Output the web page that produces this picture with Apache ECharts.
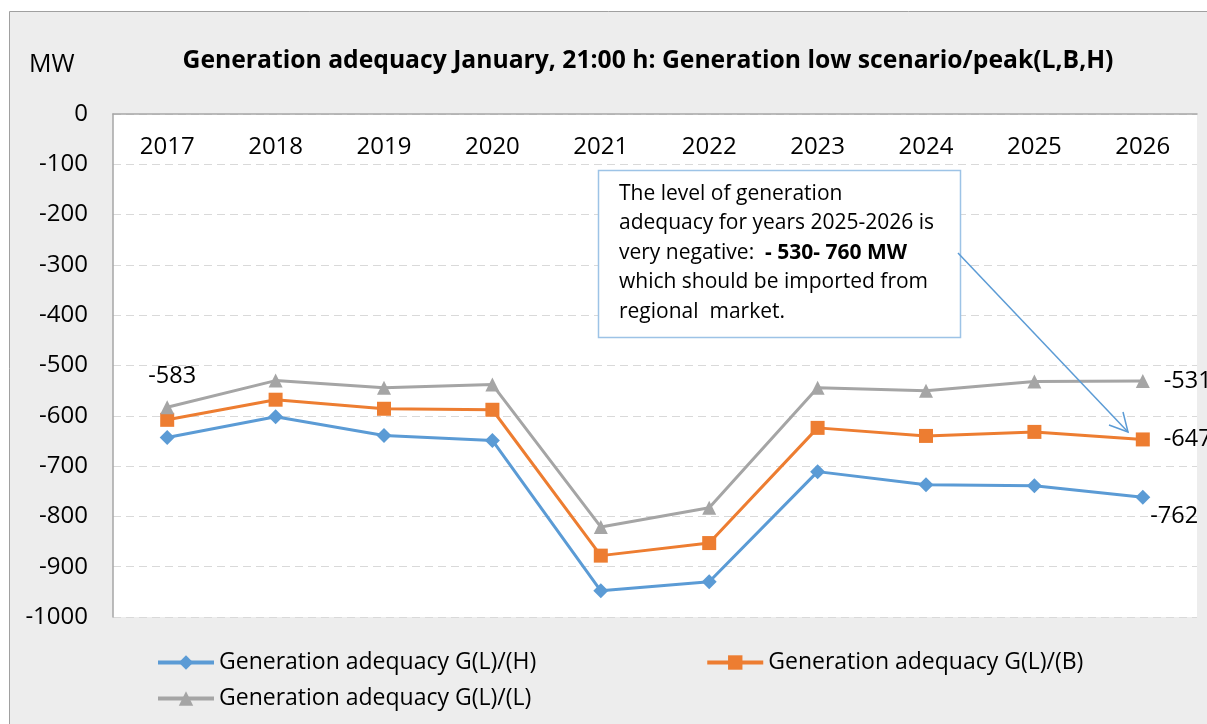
<!DOCTYPE html>
<html>
<head>
<meta charset="utf-8">
<script src="https://cdn.jsdelivr.net/npm/echarts@6/dist/echarts.min.js"></script>
<style>
  html, body { margin: 0; padding: 0; background: #fff; }
  #chart { width: 1207px; height: 724px; }
</style>
</head>
<body>
<div id="chart"></div>
<script>
// data
var years = ['2017', '2018', '2019', '2020', '2021', '2022', '2023', '2024', '2025', '2026'];
var adequacyH = [-643, -602, -639, -649, -948, -930, -711, -737, -739, -762];
var adequacyB = [-608, -568, -586, -588, -878, -853, -624, -640, -632, -647];
var adequacyL = [-583, -530, -544, -538, -821, -783, -544, -550, -532, -531];
var seriesNames = ['Generation adequacy G(L)/(H)', 'Generation adequacy G(L)/(B)', 'Generation adequacy G(L)/(L)'];

var font = 'Open Sans';
var chart = echarts.init(document.getElementById('chart'));

// labels only shown on some points, like the original
function labelled(values, show, pos) {
  return values.map(function (v, i) {
    if (show[i]) {
      return { value: v, label: { show: true, position: pos[i] } };
    }
    return v;
  });
}

var legendText = { fontFamily: font, fontSize: 23, color: '#000' };

var option = {
  animation: false,
  textStyle: { fontFamily: font },
  graphic: [
    {
      type: 'rect', z: -10, silent: true,
      shape: { x: 9.5, y: 11.5, width: 1220, height: 730 },
      style: { fill: '#ededed', stroke: '#a0a0a0', lineWidth: 1 }
    },
    {
      type: 'text', left: 29, top: 52,
      style: { text: 'MW', font: '25px "Open Sans"', fill: '#000' }
    },
    // annotation box
    {
      type: 'rect', z: 50,
      shape: { x: 598.5, y: 170.5, width: 362, height: 167 },
      style: { fill: '#fff', stroke: '#9dc3e6', lineWidth: 1.5 }
    },
    {
      type: 'text', z: 51, left: 619, top: 179,
      style: {
        text: 'The level of generation\nadequacy for years 2025-2026 is\nvery negative:  {b|- 530- 760 MW}\nwhich should be imported from\nregional  market.',
        font: '21px "Open Sans"', fill: '#000', lineHeight: 29.5,
        rich: { b: { fontWeight: 'bold', fontSize: 21, fontFamily: font, lineHeight: 29.5 } }
      }
    },
    // arrow from the box to the 2026 point
    {
      type: 'polyline', z: 52,
      shape: { points: [[958, 253], [1128, 432]] },
      style: { stroke: '#5b9bd5', lineWidth: 1.5, fill: null }
    },
    {
      type: 'polyline', z: 52,
      shape: { points: [[1109, 425], [1128, 432], [1123, 412]] },
      style: { stroke: '#5b9bd5', lineWidth: 1.5, fill: null }
    }
  ],
  title: {
    text: 'Generation adequacy January, 21:00 h: Generation low scenario/peak(L,B,H)',
    left: 643, top: 43, textAlign: 'center',
    textStyle: { fontFamily: font, fontSize: 24.7, fontWeight: 'bold', color: '#000' }
  },
  legend: [
    {
      left: 151, top: 646, itemGap: 169, itemWidth: 56, itemHeight: 18,
      textStyle: legendText, lineStyle: { width: 4 },
      data: [seriesNames[0], seriesNames[1]]
    },
    {
      left: 151, top: 682, itemWidth: 56, itemHeight: 18,
      textStyle: legendText, lineStyle: { width: 4 },
      data: [seriesNames[2]]
    }
  ],
  grid: {
    left: 113, right: 10, top: 114, bottom: 107,
    show: true, backgroundColor: '#fff', borderWidth: 0
  },
  xAxis: {
    type: 'category', data: years, position: 'top',
    axisLine: { show: true, lineStyle: { color: '#a6a6a6', width: 1.5 } },
    axisTick: { show: false },
    axisLabel: { inside: true, margin: 21, fontSize: 24, color: '#000', fontFamily: font },
    splitLine: { show: false }
  },
  yAxis: {
    type: 'value', min: -1000, max: 0, interval: 100,
    axisLine: { show: true, onZero: false, lineStyle: { color: '#a6a6a6', width: 1.5 } },
    axisTick: { show: false },
    axisLabel: {
      margin: 25, fontSize: 24, color: '#000', fontFamily: font,
      formatter: function (v) { return String(v); }
    },
    splitLine: { show: true, lineStyle: { color: '#d9d9d9', type: [8, 5], width: 1 } }
  },
  series: [
    {
      name: seriesNames[0], type: 'line',
      data: labelled(adequacyH, [0, 0, 0, 0, 0, 0, 0, 0, 0, 1], { 9: [15, 15] }),
      symbol: 'diamond', symbolSize: 15,
      itemStyle: { color: '#5b9bd5' }, lineStyle: { width: 3 },
      label: { fontSize: 23.5, color: '#000', fontFamily: font }
    },
    {
      name: seriesNames[1], type: 'line',
      data: labelled(adequacyB, [0, 0, 0, 0, 0, 0, 0, 0, 0, 1], { 9: 'right' }),
      symbol: 'rect', symbolSize: 14,
      itemStyle: { color: '#ed7d31' }, lineStyle: { width: 3 },
      label: { fontSize: 23.5, color: '#000', fontFamily: font, distance: 14 }
    },
    {
      name: seriesNames[2], type: 'line',
      data: labelled(adequacyL, [1, 0, 0, 0, 0, 0, 0, 0, 0, 1], { 0: [-12, -36], 9: 'right' }),
      symbol: 'triangle', symbolSize: 14,
      itemStyle: { color: '#a5a5a5' }, lineStyle: { width: 3 },
      label: { fontSize: 23.5, color: '#000', fontFamily: font, distance: 14 }
    }
  ]
};

chart.setOption(option);
</script>
</body>
</html>
